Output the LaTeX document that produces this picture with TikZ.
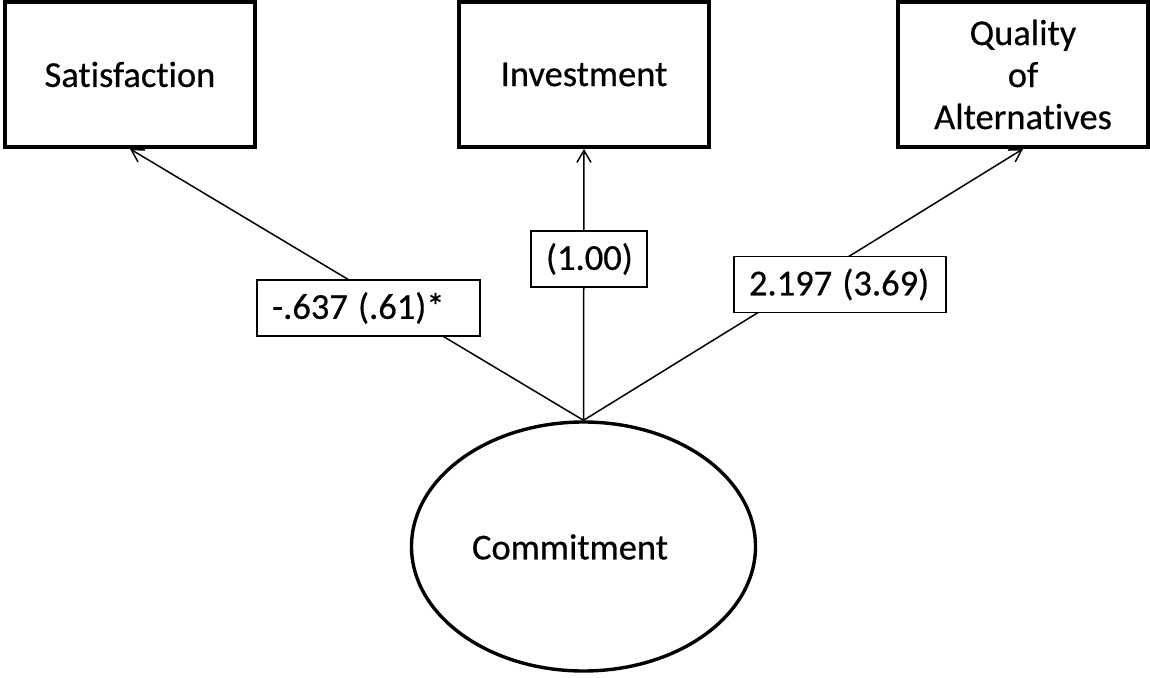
\documentclass[tikz,border=0pt]{standalone}
\usepackage{fontspec}
\setmainfont{Carlito}[FakeBold=0.5, Ligatures={NoCommon}]
\usetikzlibrary{shapes.geometric,arrows.meta}

\begin{document}
\begin{tikzpicture}[x=1pt,y=-1pt,
  every node/.style={font=\fontsize{36.5}{42}\selectfont},
  construct/.style={draw, line width=3.8pt, minimum width=250pt, minimum height=145pt,
    align=center, inner sep=0pt},
  latent/.style={draw, ellipse, line width=3.4pt, minimum width=344pt, minimum height=249pt,
    inner sep=0pt},
  coef/.style={draw, fill=white, line width=1.8pt, minimum height=56pt,
    inner xsep=15pt, inner ysep=0pt, align=left},
  path/.style={line width=1.5pt, -{Straight Barb[length=12pt,width=14pt,line width=1.5pt]}}
]
  \useasboundingbox (0,0) rectangle (1150,677);

  % observed indicators
  \node[construct] (sat) at (130,74.5) {Satisfaction};
  \node[construct] (inv) at (584,74.5) {Investment};
  \node[construct] (alt) at (1023,74.5) {Quality\\of\\Alternatives};

  % latent factor and its name
  \node[latent] (com) at (583.5,546.5) {};
  \node[inner sep=0pt] (comname) at (570,547) {Commitment};

  % loadings
  \draw[path] (com.north) -- (sat.south);
  \draw[path] (com.north) -- (inv.south);
  \draw[path] (com.north) -- (alt.south);

  % coefficient labels
  \node[coef, text width=193pt] (l1) at (368.5,308) {-.637\kern-2pt{} (.61)*};
  \node[coef, text width=86pt] (l2) at (589,259) {(1.00)};
  \node[coef, text width=182pt] (l3) at (840,284.5) {2.197\kern-2pt{} (3.69)};
\end{tikzpicture}
\end{document}
